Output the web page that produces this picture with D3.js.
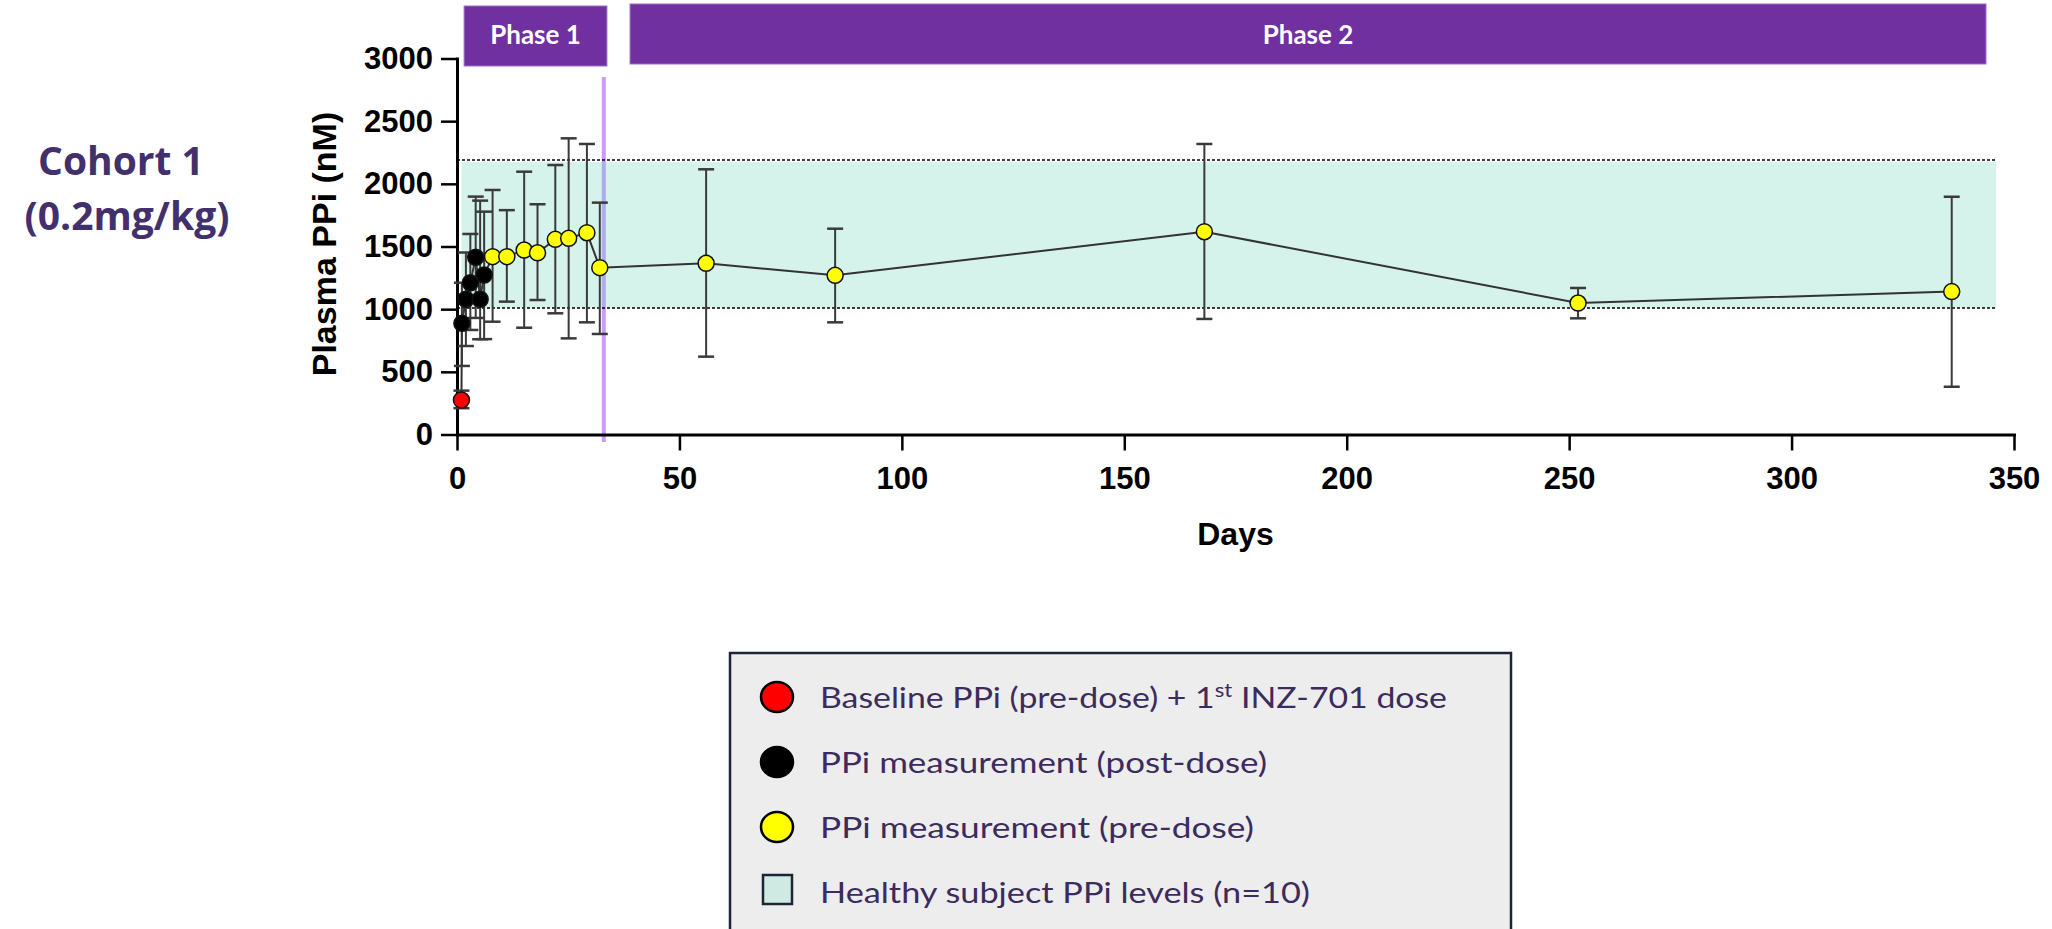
<!DOCTYPE html>
<meta charset="utf-8">
<script src="https://d3js.org/d3.v7.min.js"></script>
<style>
  body { margin: 0; background: #fff; }
  .axis text {
    font-family: "Liberation Sans", Arial, sans-serif;
    font-weight: bold;
    font-size: 31px;
    fill: #000;
  }
  .axis path, .axis line {
    stroke: #000;
  }
  .legend text {
    font-family: Lato, "Open Sans", sans-serif;
    font-size: 29px;
    fill: #3b2b5e;
  }
</style>
<svg></svg>
<script>

// DATA

// days after first dose, mean plasma PPi (nM) and error bar ends
var days   = [1, 1.1, 2, 3, 4.2, 5.2, 6.1, 8, 11.2, 15.1, 18.1, 22.1, 25.1, 29.2, 32.1, 56, 85, 168, 252, 336];
var means  = [275, 887, 1079, 1211, 1414, 1079, 1273, 1419, 1419, 1472, 1450, 1557, 1565, 1610, 1331, 1366, 1270, 1618, 1049, 1140];
var errHi  = [350, 1211, 1452, 1600, 1898, 1866, 1778, 1951, 1790, 2097, 1837, 2150, 2363, 2318, 1850, 2116, 1642, 2318, 1169, 1897];
var errLo  = [210, 547, 706, 834, 930, 760, 761, 900, 1060, 852, 1073, 967, 767, 895, 802, 621, 895, 922, 927, 381];
var kinds  = ["baseline", "post", "post", "post", "post", "post", "post",
              "pre", "pre", "pre", "pre", "pre", "pre", "pre", "pre",
              "pre", "pre", "pre", "pre", "pre"];

var kindColor = { baseline: "#ff0000", post: "#000000", pre: "#ffff00" };

// healthy subject range (n=10)
var healthyRange = [1010, 2190];
var healthyDays = [1, 346];

// phases across the top
var phaseLabels = ["Phase 1", "Phase 2"];
var phaseStart = [1.6, 38.9];
var phaseEnd = [33.7, 343.7];
var phaseSplitDay = 33;

var xTicks = [0, 50, 100, 150, 200, 250, 300, 350];
var yTicks = [0, 500, 1000, 1500, 2000, 2500, 3000];

var legendLabels = [
  ["Baseline PPi (pre-dose) + 1", "st", " INZ-701 dose"],
  ["PPi measurement (post-dose)"],
  ["PPi measurement (pre-dose)"],
  ["Healthy subject PPi levels (n=10)"]
];
var legendWidths = [627, 447, 434, 490];


// GLOBALS

var width = 2052;
var height = 929;

var svg = d3.select("svg")
    .attr("width", width)
    .attr("height", height);

var x = d3.scaleLinear().domain([0, 350]).range([457, 2014]);
var y = d3.scaleLinear().domain([0, 3000]).range([434.5, 58.5]);


// PHASE BARS

phaseLabels.forEach(function(label, i) {
  var top = i == 0 ? 6 : 4;
  svg.append("rect")
      .attr("x", x(phaseStart[i]))
      .attr("y", top)
      .attr("width", x(phaseEnd[i]) - x(phaseStart[i]))
      .attr("height", 60)
      .attr("fill", "#7030a0")
      .attr("stroke", "#9a6cc4")
      .attr("stroke-width", 1);
  svg.append("text")
      .attr("x", (x(phaseStart[i]) + x(phaseEnd[i])) / 2)
      .attr("y", 44)
      .attr("text-anchor", "middle")
      .style("font-family", "Lato, sans-serif")
      .style("font-weight", "bold")
      .style("font-size", "26px")
      .style("fill", "#fff")
      .text(label);
});


// PHASE SPLIT LINE + HEALTHY BAND

svg.append("line")
    .attr("x1", x(phaseSplitDay)).attr("x2", x(phaseSplitDay))
    .attr("y1", 77).attr("y2", 442)
    .attr("stroke", "#cc99ff")
    .attr("stroke-width", 4);

svg.append("rect")
    .attr("x", x(healthyDays[0]))
    .attr("y", y(healthyRange[1]) + 2)
    .attr("width", x(healthyDays[1]) - x(healthyDays[0]))
    .attr("height", y(healthyRange[0]) - y(healthyRange[1]) - 2)
    .attr("fill", "rgb(115,212,188)")
    .attr("fill-opacity", 0.3);

healthyRange.forEach(function(v) {
  svg.append("line")
      .attr("x1", x(0)).attr("x2", x(healthyDays[1]))
      .attr("y1", y(v)).attr("y2", y(v))
      .attr("stroke", "#000")
      .attr("stroke-width", 1.5)
      .attr("stroke-dasharray", "3,2");
});


// AXES

var yAxis = svg.append("g")
    .attr("class", "axis")
    .attr("transform", "translate(" + x(0) + ",0)")
    .call(d3.axisLeft(y).tickValues(yTicks).tickFormat(d3.format("d"))
      .tickSize(16).tickSizeOuter(0).tickPadding(8));

var xAxis = svg.append("g")
    .attr("class", "axis")
    .attr("transform", "translate(0," + y(0) + ")")
    .call(d3.axisBottom(x).tickValues(xTicks).tickFormat(d3.format("d"))
      .tickSize(16).tickSizeOuter(0).tickPadding(12));

svg.selectAll(".axis path").attr("stroke-width", 3).attr("stroke-linecap", "square");
svg.selectAll(".axis line").attr("stroke-width", 2.5);
xAxis.selectAll("text").attr("dy", "0.85em");

svg.append("text")
    .attr("transform", "translate(336,244) rotate(-90)")
    .attr("text-anchor", "middle")
    .style("font-family", "'Liberation Sans', Arial, sans-serif")
    .style("font-weight", "bold")
    .style("font-size", "34px")
    .text("Plasma PPi (nM)");

svg.append("text")
    .attr("x", (x(0) + x(350)) / 2)
    .attr("y", 545)
    .attr("text-anchor", "middle")
    .style("font-family", "'Liberation Sans', Arial, sans-serif")
    .style("font-weight", "bold")
    .style("font-size", "32px")
    .text("Days");


// DATA: line, error bars, points

var pts = days.map(function(d, i) {
  return { day: d, mean: means[i], hi: errHi[i], lo: errLo[i], kind: kinds[i] };
});

svg.append("path")
    .datum(pts)
    .attr("fill", "none")
    .attr("stroke", "#333")
    .attr("stroke-width", 2)
    .attr("d", d3.line().x(function(d) { return x(d.day); }).y(function(d) { return y(d.mean); }));

var bars = svg.append("g")
    .attr("stroke", "#3a3a3a")
    .attr("stroke-width", 2)
    .selectAll("g")
    .data(pts)
    .enter().append("g");

bars.append("line")
    .attr("x1", function(d) { return x(d.day); })
    .attr("x2", function(d) { return x(d.day); })
    .attr("y1", function(d) { return y(d.hi); })
    .attr("y2", function(d) { return y(d.lo); });

bars.append("line")
    .attr("x1", function(d) { return x(d.day) - 8; })
    .attr("x2", function(d) { return x(d.day) + 8; })
    .attr("y1", function(d) { return y(d.hi); })
    .attr("y2", function(d) { return y(d.hi); })
    .attr("stroke-width", 2.5);

bars.append("line")
    .attr("x1", function(d) { return x(d.day) - 8; })
    .attr("x2", function(d) { return x(d.day) + 8; })
    .attr("y1", function(d) { return y(d.lo); })
    .attr("y2", function(d) { return y(d.lo); })
    .attr("stroke-width", 2.5);

svg.append("g")
    .selectAll("circle")
    .data(pts)
    .enter().append("circle")
    .attr("cx", function(d) { return x(d.day); })
    .attr("cy", function(d) { return y(d.mean); })
    .attr("r", 8)
    .attr("fill", function(d) { return kindColor[d.kind]; })
    .attr("stroke", "#111")
    .attr("stroke-width", 1.5);


// COHORT LABEL

svg.append("text")
    .attr("x", 121).attr("y", 175)
    .attr("text-anchor", "middle")
    .style("font-family", "'Open Sans', sans-serif")
    .style("font-weight", "bold")
    .style("font-size", "39px")
    .style("fill", "#42306d")
    .text("Cohort 1");

svg.append("text")
    .attr("x", 127).attr("y", 230)
    .attr("text-anchor", "middle")
    .style("font-family", "'Open Sans', sans-serif")
    .style("font-weight", "bold")
    .style("font-size", "39px")
    .style("fill", "#42306d")
    .text("(0.2mg/kg)");


// LEGEND

var legend = svg.append("g").attr("class", "legend");

legend.append("rect")
    .attr("x", 730).attr("y", 653)
    .attr("width", 781).attr("height", 300)
    .attr("fill", "#ededed")
    .attr("stroke", "#1c2535")
    .attr("stroke-width", 2.5);

var markerKinds = ["baseline", "post", "pre"];
markerKinds.forEach(function(k, i) {
  legend.append("ellipse")
      .attr("cx", 777).attr("cy", 697 + i * 65)
      .attr("rx", 16).attr("ry", 15)
      .attr("fill", kindColor[k])
      .attr("stroke", "#000")
      .attr("stroke-width", 2.5);
});

legend.append("rect")
    .attr("x", 763).attr("y", 875)
    .attr("width", 29).attr("height", 29)
    .attr("fill", "#cfe9e3")
    .attr("stroke", "#1c2535")
    .attr("stroke-width", 2.5);

legendLabels.forEach(function(parts, i) {
  var t = legend.append("text")
      .attr("x", 820)
      .attr("y", 708 + i * 65)
      .attr("textLength", legendWidths[i])
      .attr("lengthAdjust", "spacingAndGlyphs");
  parts.forEach(function(p, j) {
    var s = t.append("tspan").text(p);
    if (j == 1) s.attr("baseline-shift", "super").style("font-size", "19px");
  });
});

</script>
